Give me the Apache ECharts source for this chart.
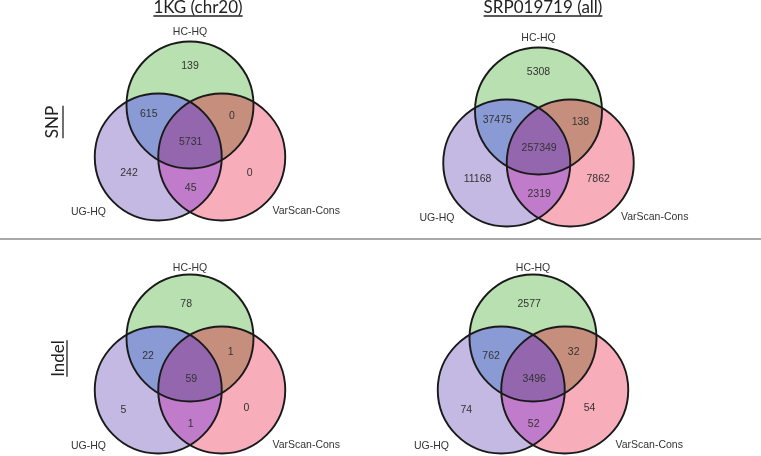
<!DOCTYPE html>
<html><head><meta charset="utf-8">
<script src="https://cdn.jsdelivr.net/npm/echarts@6/dist/echarts.min.js"></script>
<style>html,body{margin:0;padding:0;background:#fff}#c{width:761px;height:456px}</style>
</head><body><div id="c"></div>
<script>
// ---------------- data ----------------
const columnTitles = ['1KG (chr20)', 'SRP019719 (all)'];
const rowTitles = ['SNP', 'Indel'];
const setNames = ['HC-HQ', 'UG-HQ', 'VarScan-Cons'];
const regionNames = ['HC-HQ only', 'UG-HQ only', 'VarScan-Cons only',
  'HC-HQ & UG-HQ', 'HC-HQ & VarScan-Cons', 'UG-HQ & VarScan-Cons', 'all three'];
const snp1KG   = [139, 242, 0, 615, 0, 45, 5731];
const snpSRP   = [5308, 11168, 7862, 37475, 138, 2319, 257349];
const indel1KG = [78, 5, 0, 22, 1, 1, 59];
const indelSRP = [2577, 74, 54, 762, 32, 52, 3496];

// ---------------- layout ----------------
const UNIT = 63.5;                       // px per circle radius
const X_RANGE = [-2.1, 2.1], Y_RANGE = [-1.03, 2.1];
const panelLayout = [
  {cx: 190,   cy: 157, row: 0},
  {cx: 538.5, cy: 163, row: 0},
  {cx: 190,   cy: 390, row: 1},
  {cx: 533,   cy: 390, row: 1}
];
const panelValues = [snp1KG, snpSRP, indel1KG, indelSRP];
const CIRCLES = [[0, 0.82], [-0.5, 0], [0.5, 0]];   // HC (top), UG (left), VarScan (right); radius 1
const REGION_COLORS = ['#b9e0b1', '#c4b9e3', '#f7adba', '#8a9ad5', '#c68f7d', '#c07cca', '#9366ae'];
const REGION_LABEL_POS = [
  [[0, 1.425], [-0.96, -0.26], [0.94, -0.25], [-0.65, 0.68], [0.66, 0.65], [0.01, -0.49], [0.01, 0.24]],
  [[-0.06, 1.36], [-1.05, -0.32], [0.89, -0.29], [-0.66, 0.54], [0.64, 0.59], [0.01, -0.54], [0.02, 0.17]]
];
const SET_LABEL_POS = [
  [[0, 1.96], [-1.6, -0.86], [1.83, -0.85]],
  [[0, 1.92], [-1.6, -0.88], [1.83, -0.87]]
];
const LABEL_FONT = '10.5px "Liberation Sans", Arial, sans-serif';
const TITLE_FONT_FAMILY = 'Lato';
const TITLE_SIZE = 17;

// ---------------- geometry ----------------
function dist(p, q) { return Math.hypot(p[0] - q[0], p[1] - q[1]); }
function intersect(p, q) {
  const dx = q[0] - p[0], dy = q[1] - p[1], d = Math.hypot(dx, dy);
  const h = Math.sqrt(1 - (d / 2) * (d / 2));
  const mx = p[0] + dx / 2, my = p[1] + dy / 2;
  return [[mx - h * dy / d, my + h * dx / d], [mx + h * dy / d, my - h * dx / d]];
}
function split(pair, other) {
  return dist(pair[0], other) < dist(pair[1], other) ? {inn: pair[0], out: pair[1]} : {inn: pair[1], out: pair[0]};
}
const [A, B, C] = CIRCLES;
const ab = split(intersect(A, B), C), ac = split(intersect(A, C), B), bc = split(intersect(B, C), A);
const PT = {abO: ab.out, abI: ab.inn, acO: ac.out, acI: ac.inn, bcO: bc.out, bcI: bc.inn};
const REGION_PATHS = [
  ['abO', [0, 'acO', true],  [2, 'bcI', false], [1, 'abO', false]],
  ['abO', [1, 'bcO', false], [2, 'acI', true],  [0, 'abO', true]],
  ['acO', [2, 'bcO', true],  [1, 'abI', false], [0, 'acO', false]],
  ['abO', [0, 'acI', false], [2, 'bcI', true],  [1, 'abO', false]],
  ['acO', [0, 'abI', true],  [1, 'bcI', false], [2, 'acO', true]],
  ['bcO', [1, 'abI', false], [0, 'acI', true],  [2, 'bcO', false]],
  ['abI', [0, 'acI', true],  [2, 'bcI', true],  [1, 'abI', true]]
];
function arcPoints(c, from, to, cw, n) {
  const a0 = Math.atan2(from[1] - c[1], from[0] - c[0]);
  const a1 = Math.atan2(to[1] - c[1], to[0] - c[0]);
  let span = cw ? a0 - a1 : a1 - a0;
  span = ((span % (2 * Math.PI)) + 2 * Math.PI) % (2 * Math.PI);
  const pts = [];
  for (let k = 1; k <= n; k++) {
    const a = cw ? a0 - span * k / n : a0 + span * k / n;
    pts.push([c[0] + Math.cos(a), c[1] + Math.sin(a)]);
  }
  return pts;
}
const REGION_POLY = REGION_PATHS.map(spec => {
  let cur = PT[spec[0]];
  const pts = [cur];
  for (let s = 1; s < spec.length; s++) {
    const [ci, to, cw] = spec[s];
    pts.push(...arcPoints(CIRCLES[ci], cur, PT[to], cw, 60));
    cur = PT[to];
  }
  return pts;
});

// ---------------- text measure ----------------
const mctx = document.createElement('canvas').getContext('2d');
function textWidth(t, font) { mctx.font = font; return mctx.measureText(t).width; }

// ---------------- option ----------------
const grids = [], xAxes = [], yAxes = [], series = [];
panelLayout.forEach((p, gi) => {
  grids.push({
    left: p.cx + X_RANGE[0] * UNIT,
    top: p.cy - Y_RANGE[1] * UNIT,
    width: (X_RANGE[1] - X_RANGE[0]) * UNIT,
    height: (Y_RANGE[1] - Y_RANGE[0]) * UNIT
  });
  xAxes.push({type: 'value', gridIndex: gi, min: X_RANGE[0], max: X_RANGE[1], show: false});
  yAxes.push({type: 'value', gridIndex: gi, min: Y_RANGE[0], max: Y_RANGE[1], show: false});
  const row = p.row;
  series.push({
    type: 'custom', name: 'regions' + gi, xAxisIndex: gi, yAxisIndex: gi, z: 1,
    data: panelValues[gi].map((v, i) => ({name: regionNames[i], value: [i, v]})),
    renderItem: function (params, api) {
      const idx = api.value(0);
      const pts = REGION_POLY[idx].map(q => api.coord(q));
      const lp = api.coord(REGION_LABEL_POS[row][idx]);
      return {type: 'group', children: [
        {type: 'polygon', shape: {points: pts}, style: {fill: REGION_COLORS[idx]}},
        {type: 'text', x: lp[0], y: lp[1], z2: 10,
         style: {text: String(api.value(1)), fill: '#333', font: LABEL_FONT,
                 align: 'center', verticalAlign: 'middle'}}
      ]};
    }
  });
  series.push({
    type: 'custom', name: 'sets' + gi, xAxisIndex: gi, yAxisIndex: gi, z: 2,
    data: setNames.map((s, i) => ({name: s, value: [i, 0]})),
    renderItem: function (params, api) {
      const idx = api.value(0);
      const c = api.coord(CIRCLES[idx]);
      const r = api.size([1, 0])[0];
      const lp = api.coord(SET_LABEL_POS[row][idx]);
      return {type: 'group', children: [
        {type: 'circle', shape: {cx: c[0], cy: c[1], r: r},
         style: {fill: 'none', stroke: '#1a1a1a', lineWidth: 1.9}},
        {type: 'text', x: lp[0], y: lp[1],
         style: {text: setNames[idx], fill: '#333', font: LABEL_FONT,
                 align: 'center', verticalAlign: 'middle'}}
      ]};
    }
  });
});

const titleFont = TITLE_SIZE + 'px ' + TITLE_FONT_FAMILY;
const graphics = [];
const colTitlePos = [[198, 8], [543, 8]];
columnTitles.forEach((t, i) => {
  const w = textWidth(t, titleFont);
  const [x, y] = colTitlePos[i];
  graphics.push({type: 'text', x: x, y: y,
    style: {text: t, fill: '#222', font: titleFont, align: 'center', verticalAlign: 'middle'}});
  graphics.push({type: 'line', shape: {x1: x - w / 2, y1: 16, x2: x + w / 2, y2: 16},
    style: {stroke: '#222', lineWidth: 1.3}});
});
const rowTitlePos = [[53, 122, 63], [59, 358.5, 67]];
rowTitles.forEach((t, i) => {
  const w = textWidth(t, titleFont);
  const [x, y, ux] = rowTitlePos[i];
  graphics.push({type: 'text', x: x, y: y, rotation: Math.PI / 2,
    style: {text: t, fill: '#222', font: titleFont, align: 'center', verticalAlign: 'middle'}});
  graphics.push({type: 'line', shape: {x1: ux, y1: y - w / 2, x2: ux, y2: y + w / 2},
    style: {stroke: '#222', lineWidth: 1.3}});
});
graphics.push({type: 'line', shape: {x1: 0, y1: 239, x2: 761, y2: 239},
  style: {stroke: '#8c8c8c', lineWidth: 1.5}});

const chart = echarts.init(document.getElementById('c'), null, {renderer: 'canvas'});
chart.setOption({
  animation: false,
  backgroundColor: '#fff',
  grid: grids, xAxis: xAxes, yAxis: yAxes,
  series: series,
  graphic: graphics
});
</script>
</body></html>
